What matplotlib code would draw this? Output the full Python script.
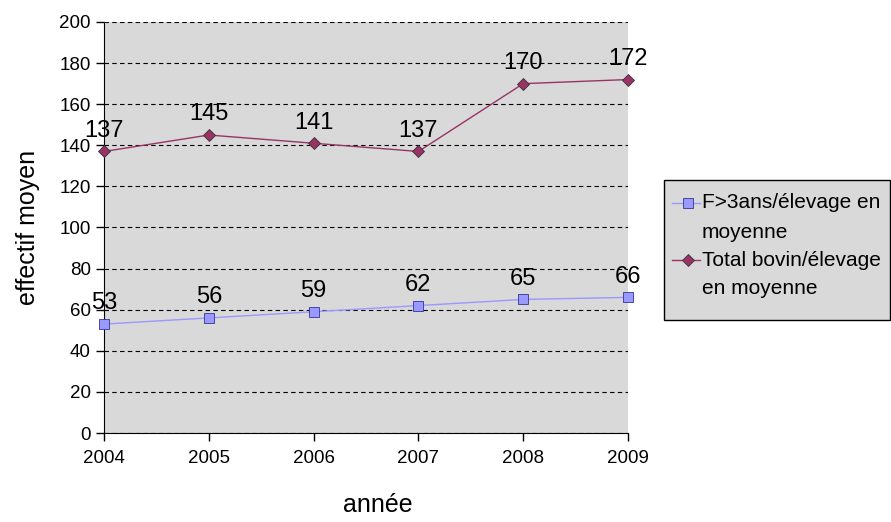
import matplotlib.pyplot as plt
from matplotlib.ticker import MultipleLocator
from matplotlib.lines import Line2D
from matplotlib.patches import Rectangle

plt.rcParams['font.family'] = ['Liberation Sans', 'DejaVu Sans']

years = [2004, 2005, 2006, 2007, 2008, 2009]
femelles = [53, 56, 59, 62, 65, 66]
total = [137, 145, 141, 137, 170, 172]
label_fem = "F>3ans/élevage en\nmoyenne"
label_tot = "Total bovin/élevage\nen moyenne"

W, H = 891, 522
fig = plt.figure(figsize=(W/100, H/100), dpi=100)
ax = fig.add_axes([104/W, 1 - 433/H, 524/W, 411/H])
ax.set_facecolor('#d9d9d9')

style_fem = dict(color='#9999ff', lw=1, marker='s', ms=7,
                 mfc='#9999ff', mec='#333399', mew=0.6)
style_tot = dict(color='#993366', lw=1, marker='D', ms=6,
                 mfc='#993366', mec='#333333', mew=0.6)

# series
ax.plot(years, femelles, clip_on=False, zorder=3, **style_fem)
ax.plot(years, total, clip_on=False, zorder=3, **style_tot)

# data labels
for x, y in zip(years, femelles):
    ax.annotate(str(y), (x, y), xytext=(0, 7), textcoords='offset points',
                ha='center', va='bottom', fontsize=17)
for x, y in zip(years, total):
    ax.annotate(str(y), (x, y), xytext=(0, 7), textcoords='offset points',
                ha='center', va='bottom', fontsize=17)

ax.set_xlim(2004, 2009)
ax.set_ylim(0, 200)
ax.yaxis.set_major_locator(MultipleLocator(20))
ax.set_xticks(years)
ax.grid(axis='y', color='black', ls=(0, (4, 3)), lw=0.8)
ax.set_axisbelow(True)

for s in ['top', 'right']:
    ax.spines[s].set_visible(False)
ax.tick_params(direction='out', length=6, labelsize=13.5, width=1)
ax.tick_params(axis='x', pad=6)

ax.set_ylabel('effectif moyen', fontsize=18, labelpad=14)
fig.text(378/W, 1 - 505/H, 'année', fontsize=18, ha='center', va='center')

# legend drawn by hand (Excel style: marker on the first text line)
fig.patches.append(Rectangle((664/W, 1 - 320/H), 226/W, 140/H, transform=fig.transFigure,
                             facecolor='#d9d9d9', edgecolor='black', lw=1))
for (label, style), ytop in zip([(label_fem, style_fem), (label_tot, style_tot)], [203, 260]):
    yf = 1 - ytop/H
    fig.lines.append(Line2D([672/W, 700/W], [yf, yf], transform=fig.transFigure,
                            markevery=[], **style))
    fig.lines.append(Line2D([688/W], [yf], transform=fig.transFigure, **style))
    for i, line in enumerate(label.split('\n')):
        fig.text(702/W, 1 - (ytop + 29*i)/H, line, fontsize=15, ha='left', va='center')

fig.savefig('out.png', dpi=100)
